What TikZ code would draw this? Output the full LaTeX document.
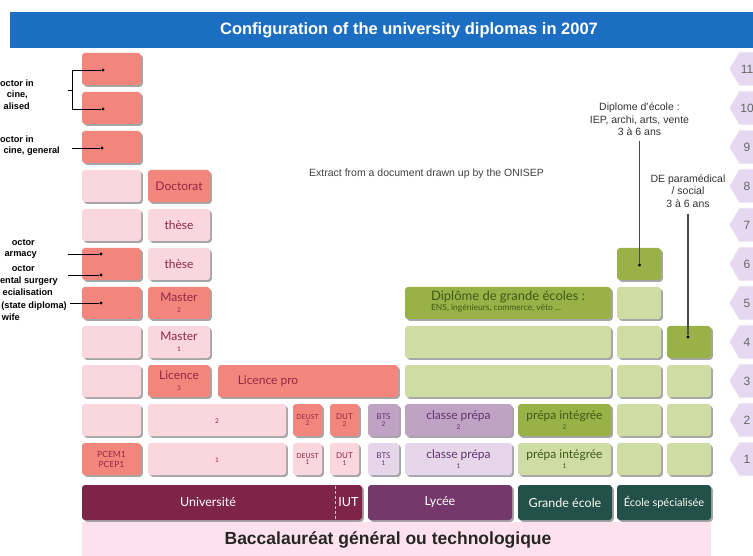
\documentclass[tikz,border=0pt]{standalone}
\usepackage{fontspec}
\setmainfont{Liberation Sans}
\newfontfamily\blkfont{Lato}
\usetikzlibrary{shadows}

\definecolor{titleblue}{HTML}{1B6EC2}
\definecolor{salmon}{HTML}{F2867C}
\definecolor{lpink}{HTML}{FAD6DE}
\definecolor{lilac}{HTML}{E6D6EA}
\definecolor{purp}{HTML}{BFA2C4}
\definecolor{lgreen}{HTML}{CFDCA4}
\definecolor{dgreen}{HTML}{98B248}
\definecolor{univcol}{HTML}{7E2448}
\definecolor{lyccol}{HTML}{74386A}
\definecolor{tealcol}{HTML}{24504A}
\definecolor{bacpink}{HTML}{FDE2EE}
\definecolor{hexfill}{HTML}{E6D8F0}
\definecolor{pinktxt}{HTML}{922845}
\definecolor{liltxt}{HTML}{633470}
\definecolor{grntxt}{HTML}{3F5A16}

\newcommand\smalldig{\fontsize{6.5}{6.5}\selectfont}
\newcommand\blkat[7]{\node[#1, minimum width=#5pt, minimum height=#6pt] (#2) at (#3,#4) {#7};}

\tikzset{
  blk/.style={rounded corners=3pt, inner sep=0pt, align=center,
    font=\blkfont\fontsize{12}{12}\selectfont,
    drop shadow={shadow xshift=1.8pt, shadow yshift=-1.8pt, fill=black, opacity=0.35}},
  sal/.style={blk, fill=salmon, text=pinktxt},
  pnk/.style={blk, fill=lpink, text=pinktxt},
  lil/.style={blk, fill=lilac, text=liltxt},
  pur/.style={blk, fill=purp, text=liltxt},
  lgr/.style={blk, fill=lgreen, text=grntxt},
  dgr/.style={blk, fill=dgreen, text=grntxt},
  bartxt/.style={text=white, font=\blkfont\fontsize{12.5}{12.5}\selectfont, inner sep=0pt},
  lab/.style={font=\bfseries\fontsize{9.2}{10}\selectfont, anchor=east, inner sep=0pt},
  note/.style={font=\fontsize{10.5}{12.5}\selectfont, text=black!80, align=center, inner sep=0pt},
  dot/.style={circle, fill=black, inner sep=0pt, minimum size=3.2pt},
  conn/.style={black, line width=0.7pt},
  vconn/.style={black!70, line width=1.1pt},
  hexa/.style={fill=hexfill, draw=white, line width=0.8pt},
  yr/.style={font=\fontsize{12}{12}\selectfont, text=black!60},
}

\begin{document}
\begin{tikzpicture}[x=1pt, y=-1pt]
\useasboundingbox (0,0) rectangle (753,556);
\clip (0,0) rectangle (753,556);
\fill[white] (0,0) rectangle (753,556);

% title
\fill[titleblue] (10,12) rectangle (760,48);
\node[text=white, font=\bfseries\fontsize{16.5}{16.5}\selectfont] (title) at (409,30) {Configuration of the university diplomas in 2007};

% year hexagons
\foreach \k/\yc in {1/459,2/420,3/381,4/342,5/303,6/264,7/225,8/186,9/147,10/108,11/69}{
  \fill[hexa] (729,\yc) -- (739,\yc-17) -- (760,\yc-17) -- (770,\yc) -- (760,\yc+17) -- (739,\yc+17) -- cycle;
  \node[yr] (hex\k) at (747,\yc) {\k};
}

% column A
\blkat{sal}{a11}{111.5}{69}{59}{32}{}
\blkat{sal}{a10}{111.5}{108}{59}{32}{}
\blkat{sal}{a9}{111.5}{147}{59}{32}{}
\blkat{pnk}{a8}{111.5}{186}{59}{32}{}
\blkat{pnk}{a7}{111.5}{225}{59}{32}{}
\blkat{sal}{a6}{111.5}{264}{59}{32}{}
\blkat{sal}{a5}{111.5}{303}{59}{32}{}
\blkat{pnk}{a4}{111.5}{342}{59}{32}{}
\blkat{pnk}{a3}{111.5}{381}{59}{32}{}
\blkat{pnk}{a2}{111.5}{420}{59}{32}{}
\blkat{sal, font=\blkfont\fontsize{8.5}{10}\selectfont}{a1}{111.5}{459}{59}{32}{PCEM1\\PCEP1}

% column B
\blkat{sal}{b8}{179}{186}{62}{32}{Doctorat}
\blkat{pnk}{b7}{179}{225}{62}{32}{thèse}
\blkat{pnk}{b6}{179}{264}{62}{32}{thèse}
\blkat{sal}{b5}{179}{303}{62}{32}{Master\\[-1pt]\smalldig 2}
\blkat{pnk}{b4}{179}{342}{62}{32}{Master\\[-1pt]\smalldig 1}
\blkat{sal}{b3}{179}{381}{62}{32}{Licence\\[-1pt]\smalldig 3}

% row 3
\blkat{sal}{lpro}{308}{381}{180}{32}{\hspace*{-80pt}Licence pro}
\blkat{lgr}{g3}{508}{381}{206}{32}{}
\blkat{lgr}{e3}{639}{381}{44}{32}{}
\blkat{lgr}{f3}{689}{381}{44}{32}{}

% row 4,5,6
\blkat{lgr}{g4}{508}{342}{206}{32}{}
\blkat{lgr}{e4}{639}{342}{44}{32}{}
\blkat{dgr}{f4}{689}{342}{44}{32}{}
\blkat{dgr}{g5}{508}{303}{206}{32}{\begin{tabular}{@{}l@{}}\fontsize{13}{13}\selectfont Diplôme de grande écoles :\\[-2pt]\fontsize{8.5}{9}\selectfont ENS, ingénieurs, commerce, véto ...\end{tabular}}
\blkat{lgr}{e5}{639}{303}{44}{32}{}
\blkat{dgr}{e6}{639}{264}{44}{32}{}

% row 2
\blkat{pnk}{w2}{217}{420}{138}{32}{\raisebox{-7pt}{\smalldig 2}}
\blkat{sal, font=\blkfont\fontsize{7}{7.5}\selectfont}{deust2}{307.5}{420}{29}{32}{DEUST\\[-1pt]\smalldig 2}
\blkat{sal, font=\blkfont\fontsize{8}{8.5}\selectfont}{dut2}{344.5}{420}{29}{32}{DUT\\[-1pt]\smalldig 2}
\blkat{pur, font=\blkfont\fontsize{8}{8.5}\selectfont}{bts2}{383.5}{420}{31}{32}{BTS\\[-1pt]\smalldig 2}
\blkat{pur}{cp2}{458.5}{420}{107}{32}{classe prépa\\[-2pt]\smalldig 2}
\blkat{dgr}{pi2}{564.5}{420}{93}{32}{prépa intégrée\\[-2pt]\smalldig 2}
\blkat{lgr}{e2}{639}{420}{44}{32}{}
\blkat{lgr}{f2}{689}{420}{44}{32}{}

% row 1
\blkat{pnk}{w1}{217}{459}{138}{32}{\raisebox{-7pt}{\smalldig 1}}
\blkat{pnk, font=\blkfont\fontsize{7}{7.5}\selectfont}{deust1}{307.5}{459}{29}{32}{DEUST\\[-1pt]\smalldig 1}
\blkat{pnk, font=\blkfont\fontsize{8}{8.5}\selectfont}{dut1}{344.5}{459}{29}{32}{DUT\\[-1pt]\smalldig 1}
\blkat{lil, font=\blkfont\fontsize{8}{8.5}\selectfont}{bts1}{383.5}{459}{31}{32}{BTS\\[-1pt]\smalldig 1}
\blkat{lil}{cp1}{458.5}{459}{107}{32}{classe prépa\\[-2pt]\smalldig 1}
\blkat{lgr}{pi1}{564.5}{459}{93}{32}{prépa intégrée\\[-2pt]\smalldig 1}
\blkat{lgr}{e1}{639}{459}{44}{32}{}
\blkat{lgr}{f1}{689}{459}{44}{32}{}

% bottom bar
\blkat{blk, fill=univcol}{univbar}{222}{502.5}{280}{35}{}
\draw[white!70!univcol, densely dashed, line width=0.6pt] (335,486) -- (335,519);
\node[bartxt] (univ) at (208,502) {Université};
\node[bartxt] (iut) at (348.5,502) {IUT};
\blkat{blk, fill=lyccol}{lycee}{440}{502.5}{144}{35}{}
\node[bartxt] (lyctxt) at (lycee) {Lycée};
\blkat{blk, fill=tealcol}{ge}{565}{502.5}{94}{35}{}
\node[bartxt, text=white!85!lgreen] (getxt) at (ge) {Grande école};
\blkat{blk, fill=tealcol}{es}{664}{502.5}{94}{35}{}
\node[bartxt, text=white!85!lgreen, font=\blkfont\fontsize{11}{11}\selectfont] (estxt) at (es) {École spécialisée};

% bac bar
\fill[bacpink] (82,522) rectangle (711,560);
\node[font=\bfseries\fontsize{17.5}{17.5}\selectfont, text=black!85] (bac) at (388,540) {Baccalauréat général ou technologique};

% extract note
\node[font=\fontsize{10.5}{10.5}\selectfont, text=black!75] (extract) at (426.5,174) {Extract from a document drawn up by the ONISEP};

% right notes
\node[note] (dip) at (639.5,119.5) {Diplome d'école :\\IEP, archi, arts, vente\\3 à 6 ans};
\node[note] (dep) at (688,191) {DE paramédical\\/ social\\3 à 6 ans};
\node[dot] (dE6) at (639.5,265) {};
\node[dot] (dF4) at (688,337) {};
\draw[vconn, shorten <=5pt] (dip.south) -- (dE6);
\draw[vconn, shorten <=6pt] (dep.south) -- (dF4);

% left labels (as cut at the left edge in the reference)
\node[lab] (l1a) at (34,83) {octor in};
\node[lab] (l1b) at (28,95) {cine,};
\node[lab] (l1c) at (30,106) {alised};
\node[lab] (l2a) at (34,139) {octor in};
\node[lab] (l2b) at (60,151) {cine, general};
\node[lab] (l3a) at (35,243) {octor};
\node[lab] (l3b) at (37,255) {armacy};
\node[lab] (l4a) at (35,269) {octor};
\node[lab] (l4b) at (58,281) {ental surgery};
\node[lab] (l4c) at (53,292) {ecialisation};
\node[lab] (l5a) at (67,306) {(state diploma)};
\node[lab] (l5b) at (20,317) {wife};

% left connectors
\node[dot] (d11) at (103,70) {};
\node[dot] (d10) at (103,109) {};
\coordinate (br1) at (72,70);
\coordinate (br2) at (72,109);
\coordinate (brm) at (72,90);
\coordinate (brn) at (68,90);
\draw[conn] (d11) -- (br1) -- (br2) -- (d10);
\draw[conn] (brm) -- (brn);
\node[dot] (d9) at (102,148) {};
\coordinate (c9) at (72,148);
\draw[conn] (c9) -- (d9);
\node[dot] (dph) at (101,254) {};
\coordinate (cph) at (68,254);
\draw[conn] (cph) -- (dph);
\node[dot] (dden) at (101,275) {};
\coordinate (cden) at (68,275);
\draw[conn] (cden) -- (dden);
\node[dot] (dmid) at (101,303) {};
\coordinate (cmid) at (70,303);
\draw[conn] (cmid) -- (dmid);
\end{tikzpicture}
\end{document}
